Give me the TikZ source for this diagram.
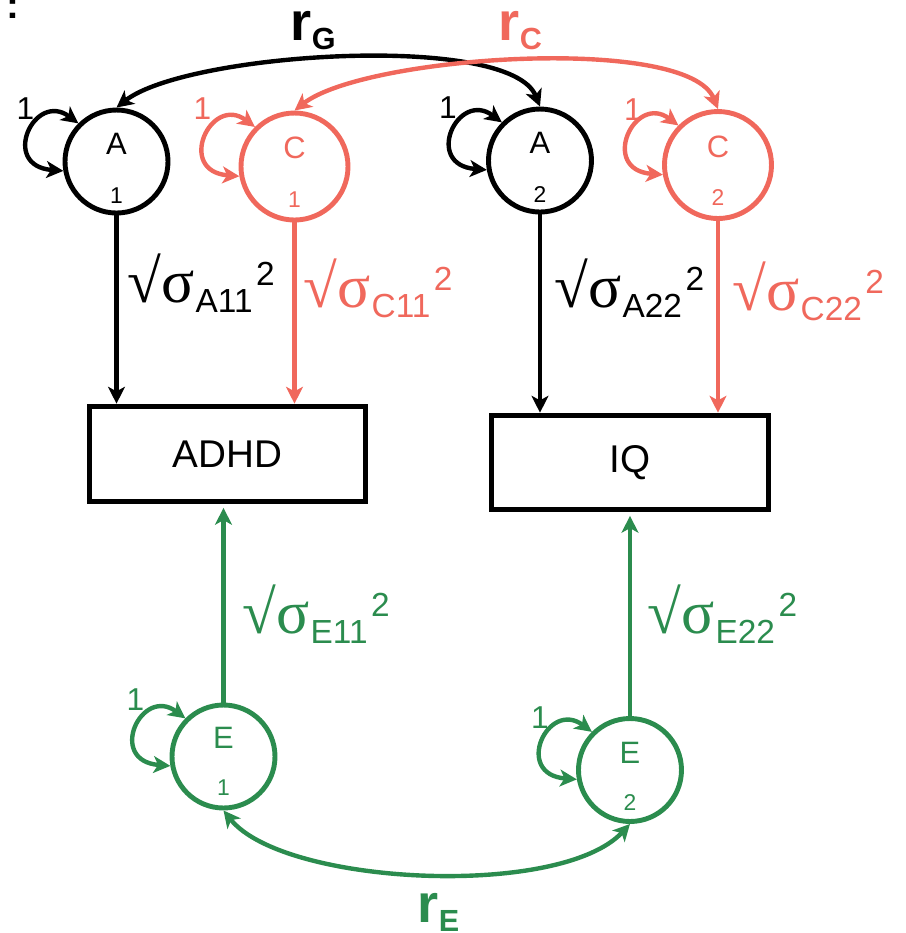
\documentclass[tikz,border=0pt]{standalone}
\usepackage{fontspec}
\setmainfont{Liberation Sans}
\newfontfamily\sigfont{Liberation Serif}
\usepackage{tikz}
\usetikzlibrary{arrows.meta,calc}
\definecolor{figline}{RGB}{0,0,0}
\definecolor{figred}{RGB}{240,104,92}
\definecolor{figgreen}{RGB}{43,140,78}
\newcommand{\sigterm}[1]{{\sigfont\fontsize{17.5}{17.5}\selectfont √σ}\hspace{0.3pt}\raisebox{-2.9pt}{\fontsize{9.5}{9.5}\selectfont #1}\hspace{1pt}\raisebox{4.8pt}{\fontsize{9.5}{9.5}\selectfont 2}}
\newcommand{\rterm}[1]{{\fontsize{15.4}{15.4}\selectfont\bfseries r}\raisebox{-2.8pt}{\fontsize{8.7}{8.7}\selectfont\bfseries #1}}
\tikzset{
  lat/.style  ={circle, draw, line width=1.4pt, minimum size=10.3mm, inner sep=0pt},
  obs/.style  ={rectangle, draw=figline, line width=1.6pt, inner sep=0pt, font=\fontsize{11}{11}\selectfont},
  ptr/.style  ={line width=1.2pt, -{Stealth[length=4.8pt,width=4.8pt,inset=1.3pt]}},
  dptr/.style ={line width=1.25pt, {Stealth[length=4.8pt,width=4.8pt,inset=1.3pt]}-{Stealth[length=4.8pt,width=4.8pt,inset=1.3pt]}},
  lab/.style  ={font=\fontsize{8.8}{8.8}\selectfont, inner sep=0pt, anchor=base},
  labs/.style ={font=\fontsize{6.5}{6.5}\selectfont, inner sep=0pt, anchor=base},
  one/.style  ={font=\fontsize{9}{9}\selectfont, inner sep=0pt},
  coef/.style ={inner sep=0pt, anchor=base west},
}
\begin{document}
\begin{tikzpicture}[x=0.1mm,y=0.1mm]
  \useasboundingbox (0,0) rectangle (906,-933);
  \node[font=\fontsize{11}{11}\selectfont\bfseries, inner sep=0pt, anchor=base] (panel) at (13,-18) {:};
  % latent factors
  \node[lat, draw=figline] (A1) at (116.5,-161.5) {};
  \node[lat, draw=figred, minimum size=10.7mm] (C1) at (294.5,-166.5) {};
  \node[lat, draw=figline] (A2) at (540,-160.5) {};
  \node[lat, draw=figred, minimum size=10.7mm] (C2) at (718,-165) {};
  \node[lat, draw=figgreen] (E1) at (223.5,-756.5) {};
  \node[lat, draw=figgreen] (E2) at (630,-770) {};
  \node[lab] (A1t) at ($(A1)+(0,7)$) {A};
  \node[labs] (A1n) at ($(A1)+(0,-42)$) {1};
  \node[lab, text=figred] (C1t) at ($(C1)+(0,8)$) {C};
  \node[labs, text=figred] (C1n) at ($(C1)+(0,-41)$) {1};
  \node[lab] (A2t) at ($(A2)+(0,7)$) {A};
  \node[labs] (A2n) at ($(A2)+(0,-42)$) {2};
  \node[lab, text=figred] (C2t) at ($(C2)+(0,8)$) {C};
  \node[labs, text=figred] (C2n) at ($(C2)+(0,-40)$) {2};
  \node[lab, text=figgreen] (E1t) at ($(E1)+(0,8)$) {E};
  \node[labs, text=figgreen] (E1n) at ($(E1)+(0,-39)$) {1};
  \node[lab, text=figgreen] (E2t) at ($(E2)+(0,7)$) {E};
  \node[labs, text=figgreen] (E2n) at ($(E2)+(0,-40)$) {2};
  % observed traits
  \node[obs, minimum width=27.6mm, minimum height=9.5mm] (ADHD) at (227.5,-454) {ADHD};
  \node[obs, minimum width=27.7mm, minimum height=9.4mm] (IQ) at (630,-462.5) {IQ};
  % variances
  \draw[dptr, draw=figline] (A1.190) .. controls +(-64,5) and +(-44,33) .. (A1.135);
  \draw[dptr, draw=figred] (C1.190) .. controls +(-64,5) and +(-44,33) .. (C1.135);
  \draw[dptr, draw=figline] (A2.190) .. controls +(-64,5) and +(-44,33) .. (A2.135);
  \draw[dptr, draw=figred] (C2.190) .. controls +(-64,5) and +(-44,33) .. (C2.135);
  \draw[dptr, draw=figgreen] (E1.190) .. controls +(-64,5) and +(-44,33) .. (E1.135);
  \draw[dptr, draw=figgreen] (E2.190) .. controls +(-64,5) and +(-44,33) .. (E2.135);
  \node[one] (A1v) at ($(A1)+(-91,53)$) {1};
  \node[one, text=figred] (C1v) at ($(C1)+(-92,58)$) {1};
  \node[one] (A2v) at ($(A2)+(-92,53)$) {1};
  \node[one, text=figred] (C2v) at ($(C2)+(-85,55)$) {1};
  \node[one, text=figgreen] (E1v) at ($(E1)+(-88,57)$) {1};
  \node[one, text=figgreen] (E2v) at ($(E2)+(-90,52)$) {1};
  % paths
  \draw[ptr, draw=figline] (A1.south) -- (A1.south |- ADHD.north);
  \draw[ptr, draw=figred] (C1.south) -- (C1.south |- ADHD.north);
  \draw[ptr, draw=figline] (A2.south) -- (A2.south |- IQ.north);
  \draw[ptr, draw=figred] (C2.south) -- (C2.south |- IQ.north);
  \draw[ptr, draw=figgreen, shorten >=1pt] (E1.north) -- (E1.north |- ADHD.south);
  \draw[ptr, draw=figgreen, shorten >=1pt] (E2.north) -- (E2.north |- IQ.south);
  \node[coef] (sA11) at (127,-302) {\sigterm{A11}};
  \node[coef, text=figred] (sC11) at (303,-307) {\sigterm{C11}};
  \node[coef] (sA22) at (554,-307) {\sigterm{A22}};
  \node[coef, text=figred] (sC22) at (732,-310) {\sigterm{C22}};
  \node[coef, text=figgreen] (sE11) at (242,-633) {\sigterm{E11}};
  \node[coef, text=figgreen] (sE22) at (647,-633) {\sigterm{E22}};
  % correlations
  \draw[dptr, draw=figline] (A1.north) .. controls +(70,55) and +(-30,75) .. (A2.north);
  \draw[dptr, draw=figred] (C1.north) .. controls +(70,55) and +(-30,75) .. (C2.north);
  \draw[dptr, draw=figgreen] (E1.south) .. controls +(60,-75) and +(-70,-75) .. (E2.south);
  \node[coef] (rG) at (290,-40) {\rterm{G}};
  \node[coef, text=figred] (rC) at (498,-40) {\rterm{C}};
  \node[coef, text=figgreen] (rE) at (417,-922) {\rterm{E}};
\end{tikzpicture}
\end{document}
